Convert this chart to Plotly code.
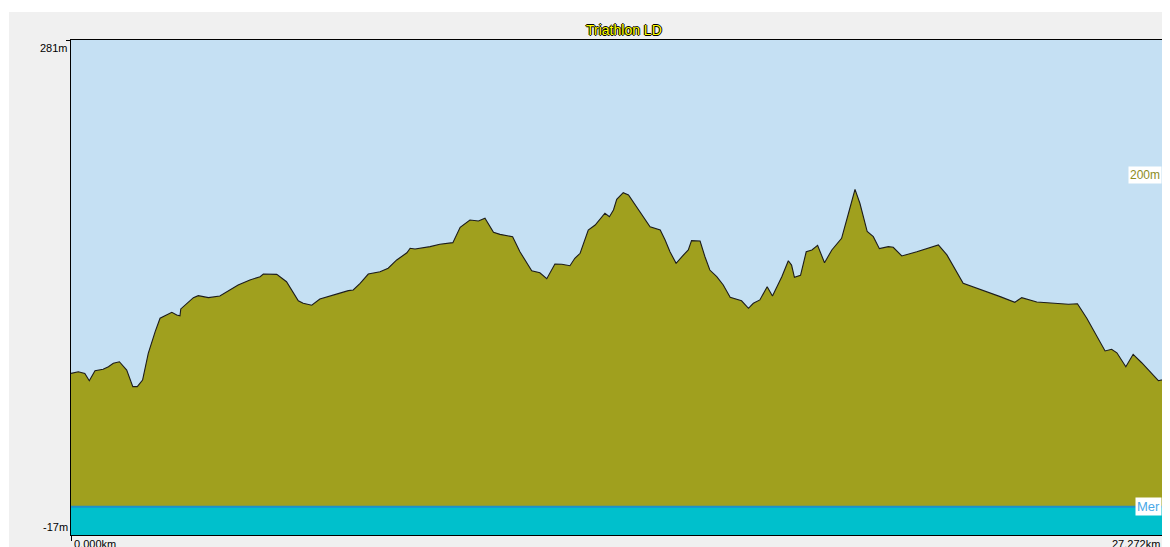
import plotly.graph_objects as go

title_text = "Triathlon LD"

distance_km = [
    0.00, 0.18, 0.34, 0.45, 0.59, 0.79, 0.92, 1.04, 1.19, 1.37, 1.52, 1.63, 1.76, 1.90, 2.07,
    2.19, 2.31, 2.48, 2.60, 2.68, 2.70, 2.85, 3.01, 3.13, 3.38, 3.66, 3.91, 4.11, 4.40, 4.65,
    4.73, 5.06, 5.30, 5.59, 5.71, 5.92, 6.12, 6.37, 6.57, 6.82, 6.94, 7.11, 7.31, 7.60, 7.80,
    8.01, 8.26, 8.34, 8.46, 8.83, 9.07, 9.39, 9.57, 9.81, 10.02, 10.18, 10.39, 10.55, 10.86, 11.04,
    11.33, 11.53, 11.70, 11.90, 12.07, 12.27, 12.39, 12.52, 12.72, 12.89, 13.13, 13.24, 13.34, 13.42, 13.58,
    13.71, 13.87, 14.12, 14.24, 14.49, 14.61, 14.73, 14.88, 15.02, 15.18, 15.26, 15.47, 15.59, 15.71, 15.88,
    16.04, 16.21, 16.49, 16.66, 16.78, 16.94, 17.12, 17.25, 17.48, 17.64, 17.72, 17.79, 17.94, 18.08, 18.22,
    18.36, 18.53, 18.71, 18.95, 19.12, 19.28, 19.40, 19.58, 19.73, 19.88, 20.10, 20.22, 20.43, 20.80, 21.33,
    21.54, 21.94, 22.35, 22.85, 23.21, 23.38, 23.75, 24.16, 24.53, 24.75, 24.98, 25.43, 25.59, 25.72, 25.94,
    26.12, 26.33, 26.74, 27.01, 27.272,
]

elevation_m = [
    80.3, 81.3, 80.3, 75.9, 81.9, 82.8, 84.3, 86.4, 87.3, 82.3, 72.3, 72.3, 76.3, 92.4, 105.4,
    113.5, 115.0, 117.1, 115.4, 115.0, 119.1, 122.5, 125.9, 127.1, 125.9, 126.9, 130.5, 133.5, 136.5, 138.5,
    140.1, 139.9, 135.5, 124.0, 122.5, 121.3, 125.1, 127.1, 128.3, 130.1, 130.5, 134.5, 140.1, 141.5, 143.6,
    148.6, 152.9, 155.6, 155.2, 156.6, 158.0, 159.0, 168.2, 172.6, 172.0, 173.7, 165.2, 164.0, 162.6, 153.5,
    142.1, 140.9, 137.3, 146.1, 146.0, 145.1, 149.6, 152.6, 166.6, 169.6, 176.7, 174.6, 178.7, 185.1, 189.1,
    187.7, 181.7, 172.6, 168.6, 166.6, 160.6, 153.5, 146.6, 150.5, 154.6, 160.2, 160.0, 150.5, 142.5, 138.5,
    133.5, 126.1, 124.0, 119.5, 122.5, 124.5, 132.5, 126.9, 138.5, 148.1, 145.5, 138.1, 139.3, 153.5, 154.6,
    157.4, 146.9, 154.6, 161.6, 176.7, 191.1, 182.7, 165.7, 162.6, 155.4, 156.6, 156.2, 151.0, 153.5, 157.6,
    151.6, 134.5, 131.1, 126.5, 123.1, 125.9, 123.3, 122.7, 121.9, 122.2, 113.5, 93.8, 94.8, 92.7, 84.3,
    91.8, 86.7, 75.9, 77.3, 78.0,
]

y_min_label = "-17m"
y_max_label = "281m"
x_start_label = "0.000km"
x_end_label = "27.272km"
ref_level_label = "200m"
sea_label = "Mer"

Y_MIN, Y_MAX = -17, 281
X_END = 27.272
REF_LEVEL = 200
SEA_LEVEL = 0

# page body has an 8px margin; the visible area ends 8px before the window edge
W, H = 1154, 539
ML, MR, MT, MB = 63, 0, 32, 12
PW = W - ML - MR
PH = H - MT - MB

# full axis would be ~1109px wide; only the first PW px are visible
AXIS_PX = 1109
x_visible = X_END * PW / AXIS_PX

fig = go.Figure()

fig.add_trace(go.Scatter(
    x=distance_km, y=elevation_m, mode="lines",
    fill="tozeroy", fillcolor="#A0A01E",
    line=dict(color="#1c1c1c", width=1.1),
    hoverinfo="skip", showlegend=False,
))

shapes = [
    # sea band
    dict(type="rect", xref="x domain", yref="y", x0=0, x1=1, y0=Y_MIN, y1=SEA_LEVEL,
         fillcolor="#00C0CC", line=dict(width=0), layer="above"),
    dict(type="line", xref="x domain", yref="y", x0=0, x1=1, y0=SEA_LEVEL, y1=SEA_LEVEL,
         line=dict(color="#1E90C8", width=2), layer="above"),
    # white page borders (top and left)
    dict(type="rect", xref="paper", yref="paper", x0=-ML / PW - 0.01, x1=1.01,
         y0=1 + (MT - 4) / PH, y1=1 + MT / PH + 0.01,
         fillcolor="white", line=dict(width=0), layer="below"),
    dict(type="rect", xref="paper", yref="paper", x0=-ML / PW - 0.01, x1=-(ML - 1) / PW,
         y0=-MB / PH - 0.01, y1=1 + MT / PH + 0.01,
         fillcolor="white", line=dict(width=0), layer="below"),
]

font_ui = "Liberation Sans, Arial, sans-serif"
annotations = [
    dict(text=title_text, xref="paper", yref="paper",
         x=(616 - ML) / PW, y=1 + 10 / PH, xanchor="center", yanchor="middle",
         showarrow=False,
         font=dict(family=font_ui, size=14, color="#FFFF00",
                   shadow="-1px 0 0 #000, 1px 0 0 #000, 0 -1px 0 #000, 0 1px 0 #000")),
    dict(text=y_max_label, xref="paper", yref="y", x=-1 / PW, y=Y_MAX, xanchor="right",
         yanchor="top", showarrow=False,
         font=dict(family=font_ui, size=11, color="#000000")),
    dict(text=y_min_label, xref="paper", yref="y", x=-1 / PW, y=Y_MIN, xanchor="right",
         yanchor="bottom", showarrow=False,
         font=dict(family=font_ui, size=11, color="#000000")),
    dict(text=x_start_label, xref="x", yref="paper", x=0, y=-1 / PH, xanchor="left",
         yanchor="top", xshift=1, showarrow=False,
         font=dict(family=font_ui, size=11, color="#000000")),
    dict(text=x_end_label, xref="paper", yref="paper", x=1, y=-1 / PH,
         xanchor="right", yanchor="top", showarrow=False,
         font=dict(family=font_ui, size=11, color="#000000")),
    dict(text=ref_level_label, xref="paper", yref="y", x=1, y=REF_LEVEL, xanchor="right",
         yanchor="middle", showarrow=False, bgcolor="#FFFFFF", borderpad=1,
         font=dict(family=font_ui, size=12, color="#8C8C1E")),
    dict(text=sea_label, xref="paper", yref="y", x=1, y=SEA_LEVEL, xanchor="right",
         yanchor="middle", showarrow=False, bgcolor="#FFFFFF", borderpad=1,
         font=dict(family=font_ui, size=13, color="#4AA8E8")),
]

fig.update_layout(
    width=W, height=H,
    margin=dict(l=ML, r=MR, t=MT, b=MB, pad=0),
    paper_bgcolor="#F0F0F0",
    plot_bgcolor="#C5E0F3",
    shapes=shapes,
    annotations=annotations,
    showlegend=False,
    xaxis=dict(range=[0, x_visible], showgrid=False, zeroline=False,
               showline=True, linecolor="#000000", linewidth=1, mirror=True,
               tickvals=[0], ticks="outside", ticklen=5, tickcolor="#000000",
               showticklabels=False, fixedrange=True),
    yaxis=dict(range=[Y_MIN, Y_MAX], showgrid=False, zeroline=False,
               showline=True, linecolor="#000000", linewidth=1,
               tickvals=[Y_MAX], ticks="outside", ticklen=4, tickcolor="#000000",
               showticklabels=False, fixedrange=True),
)

fig.write_html("out.html", config=dict(displayModeBar=False))
